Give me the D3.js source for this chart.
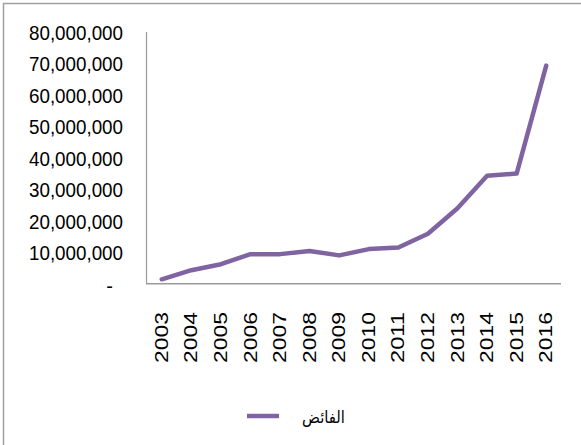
<!DOCTYPE html>
<html>
<head>
<meta charset="utf-8">
<script src="https://cdn.jsdelivr.net/npm/d3@7"></script>
<style>
  body { margin: 0; background: #fff; }
  svg { display: block; }
</style>
</head>
<body>
<div id="chart"></div>
<script>
// data
var years = ["2003","2004","2005","2006","2007","2008","2009","2010","2011","2012","2013","2014","2015","2016"];
var surplus = [1400000, 4300000, 6200000, 9400000, 9400000, 10400000, 9000000, 11000000, 11500000, 15900000, 24000000, 34300000, 35000000, 69300000];
var yTicks = [0, 10000000, 20000000, 30000000, 40000000, 50000000, 60000000, 70000000, 80000000];
var seriesName = "الفائض";

var width = 581, height = 445;
var margin = {left: 147, right: 20, top: 32, bottom: 162};

var svg = d3.select("#chart")
  .append("svg")
  .attr("width", width)
  .attr("height", height);

// chart frame (right & bottom edges fall outside the window)
svg.append("rect")
  .attr("x", 3.5).attr("y", 3.5)
  .attr("width", width + 10).attr("height", height + 10)
  .attr("fill", "none")
  .attr("stroke", "#a0a0a0")
  .attr("stroke-width", 1.5);

var x = d3.scaleBand()
  .domain(years)
  .range([margin.left, width - margin.right]);

var y = d3.scaleLinear()
  .domain([0, 80000000])
  .range([height - margin.bottom + 0.7, margin.top]);

//y labels - narrow, tall look like the original
var fmt = d3.format(",");
svg.selectAll(null)
  .data(yTicks)
  .enter()
  .append("text")
  .attr("x", function(d){ return d === 0 ? 113 : 123; })
  .attr("y", function(d){ return y(d) + (d === 0 ? 2 : 1); })
  .attr("text-anchor", "end")
  .attr("dominant-baseline", "central")
  .attr("font-family", "Liberation Sans, Arial, sans-serif")
  .attr("font-size", 20)
  .attr("textLength", function(d){ return d === 0 ? null : 94; })
  .attr("lengthAdjust", "spacingAndGlyphs")
  .attr("fill", "#000")
  .text(function(d){ return d === 0 ? "-" : fmt(d); });

//x labels, rotated
svg.selectAll(null)
  .data(years)
  .enter()
  .append("text")
  .attr("transform", function(d){
    return "translate(" + (x(d) + x.bandwidth()/2) + "," + 312 + ") rotate(-90)";
  })
  .attr("text-anchor", "end")
  .attr("dominant-baseline", "central")
  .attr("font-family", "Liberation Sans, Arial, sans-serif")
  .attr("font-size", 18)
  .attr("textLength", 51)
  .attr("lengthAdjust", "spacingAndGlyphs")
  .attr("fill", "#000")
  .text(function(d){ return d; });

// axes lines
svg.append("line")
  .attr("x1", margin.left - 0.5).attr("x2", margin.left - 0.5)
  .attr("y1", y(80000000)).attr("y2", y(0))
  .attr("stroke", "#9a9a9a").attr("stroke-width", 1.2);
svg.append("line")
  .attr("x1", margin.left - 1).attr("x2", width - margin.right)
  .attr("y1", y(0)).attr("y2", y(0))
  .attr("stroke", "#9a9a9a").attr("stroke-width", 1.5);

var line = d3.line()
  .x(function(d, i){ return x(years[i]) + x.bandwidth()/2; })
  .y(function(d){ return y(d); });

svg.append("path")
  .datum(surplus)
  .attr("d", line)
  .attr("fill", "none")
  .attr("stroke", "#8064a2")
  .attr("stroke-width", 4.5)
  .attr("stroke-linejoin", "round")
  .attr("stroke-linecap", "round");

// legend
var legend = svg.append("g").attr("transform", "translate(0,416)");
legend.append("line")
  .attr("x1", 247).attr("x2", 279)
  .attr("y1", 0).attr("y2", 0)
  .attr("stroke", "#8064a2")
  .attr("stroke-width", 4.5);
legend.append("text")
  .attr("x", 302)
  .attr("y", 1)
  .attr("text-anchor", "start")
  .attr("direction", "ltr")
  .attr("dominant-baseline", "central")
  .attr("font-family", "DejaVu Sans, Noto Sans, sans-serif")
  .attr("font-size", 16.5)
  .attr("textLength", 43)
  .attr("lengthAdjust", "spacingAndGlyphs")
  .attr("fill", "#000")
  .text(seriesName);
</script>
</body>
</html>
